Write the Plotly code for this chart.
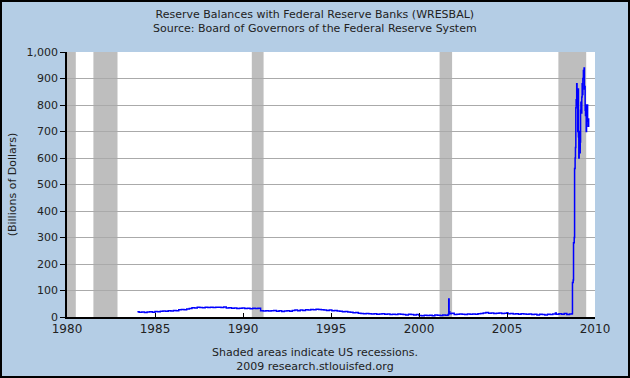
import plotly.graph_objects as go

# Weekly-ish reserve balances (billions of dollars)
years = [
    1984.00, 1984.10, 1984.25, 1984.40, 1984.55, 1984.70, 1984.85,
    1985.00, 1985.15, 1985.30, 1985.45, 1985.60, 1985.75, 1985.90,
    1986.05, 1986.20, 1986.35, 1986.50, 1986.65, 1986.80, 1986.95,
    1987.10, 1987.25, 1987.40, 1987.55, 1987.70, 1987.85,
    1988.00, 1988.15, 1988.30, 1988.45, 1988.60, 1988.75, 1988.90,
    1989.05, 1989.20, 1989.35, 1989.50, 1989.65, 1989.80, 1989.95,
    1990.10, 1990.25, 1990.40, 1990.55, 1990.70, 1990.85,
    1991.00, 1991.15, 1991.30, 1991.45, 1991.60, 1991.75, 1991.90,
    1992.05, 1992.20, 1992.35, 1992.50, 1992.65, 1992.80, 1992.95,
    1993.10, 1993.25, 1993.40, 1993.55, 1993.70, 1993.85,
    1994.00, 1994.15, 1994.30, 1994.45, 1994.60, 1994.75, 1994.90,
    1995.05, 1995.20, 1995.35, 1995.50, 1995.65, 1995.80, 1995.95,
    1996.10, 1996.25, 1996.40, 1996.55, 1996.70, 1996.85,
    1997.00, 1997.15, 1997.30, 1997.45, 1997.60, 1997.75, 1997.90,
    1998.05, 1998.20, 1998.35, 1998.50, 1998.65, 1998.80, 1998.95,
    1999.10, 1999.25, 1999.40, 1999.55, 1999.70, 1999.85,
    2000.00, 2000.15, 2000.30, 2000.45, 2000.60, 2000.75, 2000.90,
    2001.05, 2001.20, 2001.35, 2001.50, 2001.65, 2001.69, 2001.71, 2001.75, 2001.85,
    2002.00, 2002.15, 2002.30, 2002.45, 2002.60, 2002.75, 2002.90,
    2003.05, 2003.20, 2003.35, 2003.50, 2003.65, 2003.80, 2003.95,
    2004.10, 2004.25, 2004.40, 2004.55, 2004.70, 2004.85,
    2005.00, 2005.05, 2005.20, 2005.35, 2005.50, 2005.65, 2005.80, 2005.95,
    2006.10, 2006.25, 2006.40, 2006.55, 2006.70, 2006.85,
    2007.00, 2007.15, 2007.30, 2007.45, 2007.60, 2007.75, 2007.80, 2007.95,
    2008.10, 2008.25, 2008.40, 2008.55, 2008.70,
    2008.72, 2008.76, 2008.78, 2008.82, 2008.84, 2008.87, 2008.89, 2008.91,
    2008.93, 2008.96, 2008.98, 2009.00, 2009.02, 2009.04, 2009.06, 2009.08,
    2009.10, 2009.12, 2009.14, 2009.16, 2009.18, 2009.20, 2009.22, 2009.25,
    2009.27, 2009.29, 2009.31, 2009.34, 2009.36, 2009.38, 2009.40, 2009.42,
    2009.44, 2009.46, 2009.48, 2009.50, 2009.52, 2009.54, 2009.56, 2009.58,
    2009.61, 2009.64,
]
balances = [
    20, 18, 19, 17, 19, 20, 18,
    21, 20, 22, 23, 22, 24, 23,
    25, 24, 27, 28, 27, 30, 32,
    35, 34, 37, 36, 35, 37,
    36, 37, 36, 37, 37, 36, 38,
    34, 35, 33, 34, 32, 33, 34,
    32, 33, 31, 33, 32, 33,
    24, 23, 24, 23, 24, 25, 22,
    24, 21, 23, 24, 22, 25, 26,
    24, 26, 25, 27, 26, 28,
    27, 29, 28, 27, 26, 25, 26,
    24, 25, 23, 22, 20, 21, 19,
    18, 16, 17, 14, 13, 12,
    13, 12, 11, 12, 10, 11, 12,
    10, 11, 9, 10, 9, 11, 10,
    9, 8, 10, 9, 8, 9,
    6, 5, 7, 6, 7, 5, 8,
    7, 6, 8, 7, 9, 68, 20, 12, 14,
    9, 10, 11, 10, 9, 11, 10,
    11, 10, 12, 13, 15, 17, 14,
    15, 13, 14, 15, 13, 14,
    16, 12, 13, 11, 12, 10, 12, 11,
    10, 11, 9, 10, 8, 10,
    9, 8, 10, 9, 11, 15, 10, 12,
    10, 13, 9, 11, 12,
    130, 140, 280, 300, 560, 600, 640, 790,
    820, 880, 860, 800, 700, 860, 680, 600,
    650, 700, 620, 660, 780, 810, 770, 830,
    880, 840, 900, 930, 920, 940, 860, 870,
    780, 760, 800, 700, 780, 760, 800, 740,
    720, 750,
]

recession_starts = [1980.00, 1981.50, 1990.50, 2001.17, 2007.92]
recession_ends = [1980.50, 1982.87, 1991.17, 2001.88, 2009.50]

x_ticks = [1980, 1985, 1990, 1995, 2000, 2005, 2010]
y_ticks = [0, 100, 200, 300, 400, 500, 600, 700, 800, 900, 1000]

W, H = 630, 378
L, R, T, B = 67, 35, 52, 61
pw, ph = W - L - R, H - T - B

fig = go.Figure()
fig.add_trace(go.Scatter(
    x=years, y=balances, mode="lines",
    line=dict(color="#0000FF", width=1.5, shape="hv"),
    hoverinfo="skip", showlegend=False,
))

for s, e in zip(recession_starts, recession_ends):
    fig.add_shape(type="rect", xref="x", yref="paper", x0=s, x1=e, y0=0, y1=1,
                  fillcolor="#BEBEBE", line=dict(width=0), layer="between")

# outer border
fig.add_shape(type="rect", xref="paper", yref="paper",
              x0=(1 - L) / pw, x1=(W - 1 - L) / pw,
              y0=-(B - 1) / ph, y1=(H - 1 - B) / ph,
              line=dict(color="#000000", width=2), fillcolor="rgba(0,0,0,0)",
              layer="above")

tfont = dict(size=11, family="DejaVu Sans", color="#222222")

fig.update_layout(
    width=W, height=H,
    margin=dict(l=L, r=R, t=T, b=B),
    paper_bgcolor="#B4CDE5",
    plot_bgcolor="#FFFFFF",
    font=tfont,
    xaxis=dict(
        range=[1980, 2010], tickvals=x_ticks, ticktext=[str(v) for v in x_ticks],
        ticks="inside", ticklen=4, tickcolor="#000000", tickwidth=1,
        showline=True, linecolor="#000000", linewidth=1.5,
        showgrid=False, zeroline=False,
        tickfont=dict(size=12, family="DejaVu Sans", color="#222222"),
    ),
    yaxis=dict(
        range=[0, 1000], tickvals=y_ticks, tickformat=",",
        ticks="outside", ticklen=5, tickcolor="#000000", tickwidth=1,
        showline=True, linecolor="#000000", linewidth=1.5,
        showgrid=True, gridcolor="#AAAAAA", gridwidth=1, zeroline=False,
        title=dict(text="(Billions of Dollars)", standoff=8, font=tfont),
        tickfont=tfont,
    ),
    annotations=[
        dict(text="Reserve Balances with Federal Reserve Banks (WRESBAL)<br>Source: Board of Governors of the Federal Reserve System",
             xref="paper", yref="paper", x=(W / 2 - L) / pw, y=(H - B - 6) / ph,
             xanchor="center", yanchor="top", showarrow=False, font=tfont),
        dict(text="Shaded areas indicate US recessions.<br>2009 research.stlouisfed.org",
             xref="paper", yref="paper", x=(W / 2 - L) / pw, y=-(344 - (H - B)) / ph,
             xanchor="center", yanchor="top", showarrow=False, font=tfont),
    ],
)

fig.write_html("out.html", config={"displayModeBar": False},
               post_script="document.body.style.margin='0';document.body.style.overflow='hidden';")
